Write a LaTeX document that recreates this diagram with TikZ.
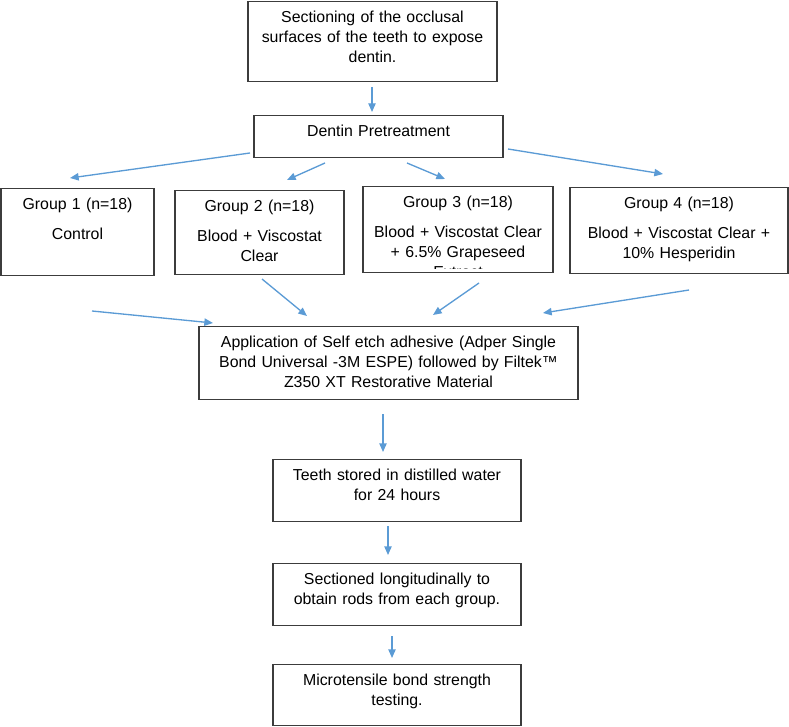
\documentclass[tikz,border=0pt]{standalone}
\usepackage{fontspec}
\setmainfont{Liberation Sans}
\usetikzlibrary{arrows.meta,calc}
\definecolor{flow}{HTML}{5B9BD5}
\definecolor{edge}{HTML}{3C3C3C}

\begin{document}
\begin{tikzpicture}[x=0.75pt,y=-0.75pt,
  box/.style={draw=edge,line width=0.9pt,fill=white,anchor=north,align=center,inner xsep=3pt,inner ysep=7.5pt,text height=8.5pt,font=\fontsize{11.9}{15}\selectfont},
  arr/.style={-{Triangle[length=6.5pt,width=5.5pt]},color=flow,line width=1pt}]
  \useasboundingbox (0,0) rectangle (789,727);
  % steps
  \node[box,text width=180.75pt,text depth=36.5pt] (cut) at (372.5,1) {Sectioning of the occlusal\\surfaces of the teeth to expose\\dentin.};
  \node[box,text width=180.75pt,text depth=8pt] (pre) at (378.5,115) {Dentin Pretreatment};
  \node[box,text width=108.75pt,text depth=41.75pt] (g1) at (77.5,188) {Group 1 (n=18)\\[7.5pt]Control};
  \node[box,text width=120.75pt,text depth=39.5pt] (g2) at (259.5,190) {Group 2 (n=18)\\[7.5pt]Blood + Viscostat\\Clear};
  \node[box,text width=136.5pt,text depth=41pt,
    path picture={\clip ([yshift=3pt]path picture bounding box.south west) rectangle (path picture bounding box.north east);
      \node[anchor=base,inner sep=0pt,font=\fontsize{11.9}{15}\selectfont] at ([yshift=-4pt]path picture bounding box.south) {Extract};}] (g3) at (458,186) {Group 3 (n=18)\\[7.5pt]Blood + Viscostat Clear\\+ 6.5\% Grapeseed};
  \node[box,text width=157.5pt,text depth=41pt] (g4) at (679,187) {Group 4 (n=18)\\[7.5pt]Blood + Viscostat Clear +\\10\% Hesperidin};
  \node[box,text width=278.25pt,text depth=31.25pt] (bond) at (388.5,326) {Application of Self etch adhesive (Adper Single\\Bond Universal -3M ESPE) followed by Filtek™\\Z350 XT Restorative Material};
  \node[box,text width=180pt,text depth=23pt] (store) at (397,459) {Teeth stored in distilled water\\for 24 hours};
  \node[box,text width=180pt,text depth=23pt] (rods) at (397,563) {Sectioned longitudinally to\\obtain rods from each group.};
  \node[box,text width=180pt,text depth=22.25pt] (test) at (397,664) {Microtensile bond strength\\testing.};
  % arrow ends
  \coordinate (cut-out) at (372,87);   \coordinate (pre-in) at (372,112);
  \coordinate (pre-1) at (250,153);    \coordinate (g1-in) at (70,178);
  \coordinate (pre-2) at (325,163);    \coordinate (g2-in) at (287,180);
  \coordinate (pre-3) at (407,163);    \coordinate (g3-in) at (445,179);
  \coordinate (pre-4) at (508,149);    \coordinate (g4-in) at (663,174);
  \coordinate (g1-out) at (92,311);    \coordinate (bond-1) at (213,323);
  \coordinate (g2-out) at (262,279);   \coordinate (bond-2) at (307,316);
  \coordinate (g3-out) at (479,283);   \coordinate (bond-3) at (433,315);
  \coordinate (g4-out) at (689,290);   \coordinate (bond-4) at (543,313);
  \coordinate (bond-out) at (383,414); \coordinate (store-in) at (383,452);
  \coordinate (store-out) at (388,526);\coordinate (rods-in) at (388,555);
  \coordinate (rods-out) at (392,636); \coordinate (test-in) at (392,658);
  \draw[arr] (cut-out)--(pre-in);
  \draw[arr] (pre-1)--(g1-in); \draw[arr] (pre-2)--(g2-in); \draw[arr] (pre-3)--(g3-in); \draw[arr] (pre-4)--(g4-in);
  \draw[arr] (g1-out)--(bond-1); \draw[arr] (g2-out)--(bond-2); \draw[arr] (g3-out)--(bond-3); \draw[arr] (g4-out)--(bond-4);
  \draw[arr] (bond-out)--(store-in); \draw[arr] (store-out)--(rods-in); \draw[arr] (rods-out)--(test-in);
\end{tikzpicture}
\end{document}
